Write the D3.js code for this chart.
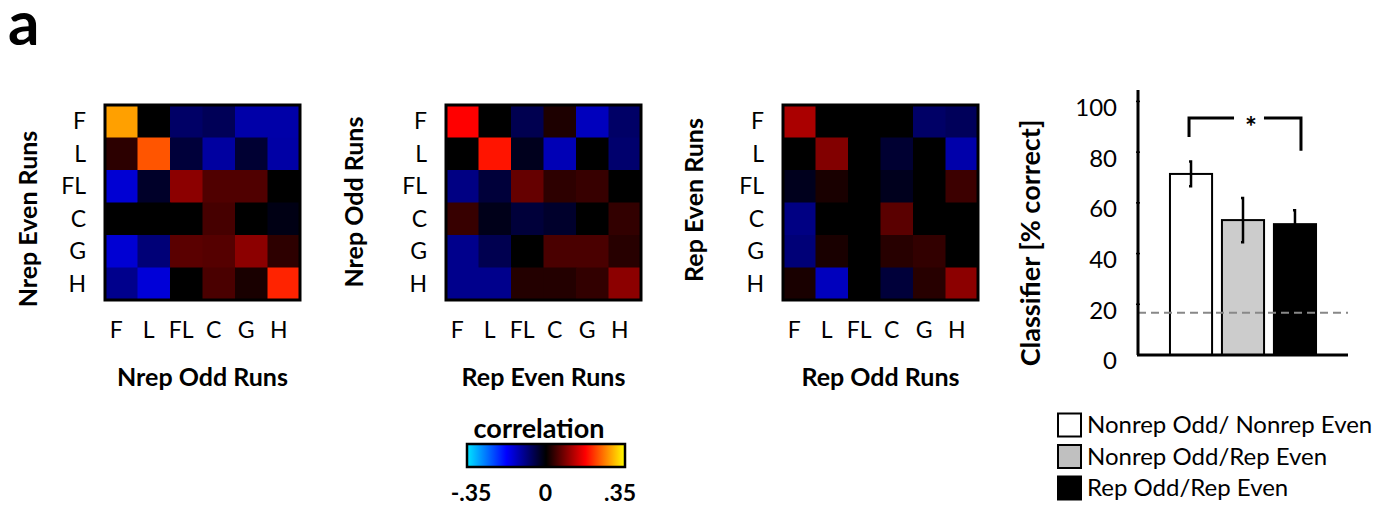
<!DOCTYPE html>
<html>
<head>
<meta charset="utf-8">
<script src="https://cdn.jsdelivr.net/npm/d3@7"></script>
<style>
  body { margin: 0; background: #fff; }
  svg { display: block; font-family: Lato, 'Open Sans', sans-serif; }
</style>
</head>
<body>
<svg id="chart" width="1377" height="507"></svg>
<script>
// ---- data ----
const faces = ['F', 'L', 'FL', 'C', 'G', 'H'];

// rows = y categories, columns = x categories
const nrepEvenVsNrepOdd = [
  [0.285, 0.000, -0.070, -0.060, -0.115, -0.115],
  [0.030, 0.233, -0.040, -0.110, -0.035, -0.113],
  [-0.145, -0.028, 0.096, 0.055, 0.055, 0.000],
  [0.000, 0.000, 0.000, 0.048, 0.000, -0.014],
  [-0.145, -0.082, 0.062, 0.058, 0.096, 0.031],
  [-0.096, -0.148, 0.000, 0.051, 0.017, 0.199]
];
const nrepOddVsRepEven = [
  [0.175, 0.000, -0.055, 0.020, -0.130, -0.070],
  [0.000, 0.189, -0.020, -0.124, 0.000, -0.075],
  [-0.090, -0.040, 0.069, 0.031, 0.038, 0.000],
  [0.038, -0.017, -0.040, -0.030, 0.000, 0.034],
  [-0.096, -0.055, 0.000, 0.051, 0.051, 0.027],
  [-0.096, -0.096, 0.024, 0.024, 0.034, 0.096]
];
const repEvenVsRepOdd = [
  [0.117, 0.000, 0.000, 0.000, -0.070, -0.062],
  [0.000, 0.089, 0.000, -0.034, 0.000, -0.117],
  [-0.020, 0.017, 0.000, -0.020, 0.000, 0.041],
  [-0.090, 0.000, 0.000, 0.062, 0.000, 0.000],
  [-0.082, 0.017, 0.000, 0.027, 0.034, 0.000],
  [0.017, -0.130, 0.000, -0.040, 0.027, 0.096]
];

const conditions = ['Nonrep Odd/ Nonrep Even', 'Nonrep Odd/Rep Even', 'Rep Odd/Rep Even'];
const accuracy = [71.4, 53.2, 51.6];
const accuracyErr = [4.9, 8.7, 5.5];
const chance = 100 / 6;
const accTicks = [0, 20, 40, 60, 80, 100];
const barFills = ['#ffffff', '#cccccc', '#000000'];
const legendFills = ['#ffffff', '#c0c0c0', '#000000'];
const corrTicks = [-0.35, 0, 0.35];
const corrTickLabels = ['-.35', '0', '.35'];

// ---- setup ----
const svg = d3.select('#chart');

const color = d3.scaleLinear()
  .domain([-0.35, -0.175, 0, 0.175, 0.35])
  .range(['#00e6ff', '#0000ff', '#000000', '#ff0000', '#ffff00'])
  .clamp(true);

svg.append('text')
  .attr('x', 8).attr('y', 45)
  .attr('font-size', 62).attr('font-weight', 700)
  .text('a');

// ---- heatmaps ----
const panels = [
  { left: 105, values: nrepEvenVsNrepOdd, yTitle: 'Nrep Even Runs', xTitle: 'Nrep Odd Runs', yTitleX: 37, yTitleY: 219 },
  { left: 446, values: nrepOddVsRepEven, yTitle: 'Nrep Odd Runs', xTitle: 'Rep Even Runs', yTitleX: 363, yTitleY: 202 },
  { left: 783, values: repEvenVsRepOdd, yTitle: 'Rep Even Runs', xTitle: 'Rep Odd Runs', yTitleX: 703, yTitleY: 200 }
];
const hmTop = 105, hmSize = 195;

panels.forEach(p => {
  const x = d3.scaleBand().domain(faces).range([p.left, p.left + hmSize]);
  const y = d3.scaleBand().domain(faces).range([hmTop, hmTop + hmSize]);
  const g = svg.append('g');

  const cells = [];
  p.values.forEach((row, i) => row.forEach((v, j) => cells.push({ r: faces[i], c: faces[j], v })));

  g.selectAll('rect.cell')
    .data(cells)
    .enter()
    .append('rect')
    .attr('class', 'cell')
    .attr('x', d => x(d.c))
    .attr('y', d => y(d.r))
    .attr('width', x.bandwidth() + 0.5)
    .attr('height', y.bandwidth() + 0.5)
    .attr('fill', d => color(d.v));

  g.append('rect')
    .attr('x', p.left).attr('y', hmTop)
    .attr('width', hmSize).attr('height', hmSize)
    .attr('fill', 'none').attr('stroke', '#000').attr('stroke-width', 3);

  // row labels
  g.selectAll('text.row')
    .data(faces)
    .enter()
    .append('text')
    .attr('class', 'row')
    .attr('x', p.left - 19)
    .attr('y', d => y(d) + y.bandwidth() / 2)
    .attr('dy', '0.35em')
    .attr('text-anchor', 'end')
    .attr('font-size', 23)
    .text(d => d);

  // column labels
  g.selectAll('text.col')
    .data(faces)
    .enter()
    .append('text')
    .attr('class', 'col')
    .attr('x', d => x(d) + x.bandwidth() / 2 - 5)
    .attr('y', 330)
    .attr('dy', '0.35em')
    .attr('text-anchor', 'middle')
    .attr('font-size', 23)
    .text(d => d);

  g.append('text')
    .attr('x', p.left + hmSize / 2)
    .attr('y', 377)
    .attr('dy', '0.35em')
    .attr('text-anchor', 'middle')
    .attr('font-size', 25).attr('font-weight', 700)
    .text(p.xTitle);

  g.append('text')
    .attr('transform', `translate(${p.yTitleX}, ${p.yTitleY}) rotate(-90)`)
    .attr('text-anchor', 'middle')
    .attr('font-size', 25).attr('font-weight', 700)
    .text(p.yTitle);
});

// ---- colour bar ----
const cbLeft = 467, cbRight = 625, cbTop = 444, cbH = 23;
const grad = svg.append('defs').append('linearGradient').attr('id', 'corrGrad');
color.domain().forEach((d, i) => {
  grad.append('stop')
    .attr('offset', `${(d + 0.35) / 0.7 * 100}%`)
    .attr('stop-color', color.range()[i]);
});
svg.append('rect')
  .attr('x', cbLeft).attr('y', cbTop)
  .attr('width', cbRight - cbLeft).attr('height', cbH)
  .attr('fill', 'url(#corrGrad)')
  .attr('stroke', '#000').attr('stroke-width', 2.5);
svg.append('text')
  .attr('x', 539).attr('y', 438)
  .attr('text-anchor', 'middle')
  .attr('font-size', 27).attr('font-weight', 700)
  .text('correlation');

const cbScale = d3.scaleLinear().domain([-0.35, 0.35]).range([471, 620]);
svg.selectAll('text.cbtick')
  .data(corrTicks)
  .enter()
  .append('text')
  .attr('class', 'cbtick')
  .attr('x', d => cbScale(d))
  .attr('y', 501)
  .attr('text-anchor', 'middle')
  .attr('font-size', 23).attr('font-weight', 700)
  .text((d, i) => corrTickLabels[i]);

// ---- bar chart ----
const bx = d3.scaleBand().domain(conditions).range([1138, 1348])
  .paddingInner(0.19).paddingOuter(0.615);
const by = d3.scaleLinear().domain([0, 104.5]).range([355, 90]);
const bar = svg.append('g');

bar.selectAll('text.ytick')
  .data(accTicks)
  .enter()
  .append('text')
  .attr('class', 'ytick')
  .attr('x', 1117)
  .attr('y', d => by(d) + 6)
  .attr('dy', '0.35em')
  .attr('text-anchor', 'end')
  .attr('font-size', 24)
  .text(d => d);

bar.selectAll('line.ytickmark')
  .data(accTicks.slice(1))
  .enter()
  .append('line')
  .attr('class', 'ytickmark')
  .attr('x1', 1136).attr('x2', 1140)
  .attr('y1', d => by(d)).attr('y2', d => by(d))
  .attr('stroke', '#000').attr('stroke-width', 1.5);

bar.append('text')
  .attr('transform', 'translate(1040, 243) rotate(-90)')
  .attr('text-anchor', 'middle')
  .attr('font-size', 27).attr('font-weight', 700)
  .text('Classifier [% correct]');

bar.selectAll('rect.bar')
  .data(conditions)
  .enter()
  .append('rect')
  .attr('class', 'bar')
  .attr('x', d => bx(d))
  .attr('y', (d, i) => by(accuracy[i]))
  .attr('width', bx.bandwidth())
  .attr('height', (d, i) => by(0) - by(accuracy[i]))
  .attr('fill', (d, i) => barFills[i])
  .attr('stroke', '#000').attr('stroke-width', 2);

// error bars
conditions.forEach((c, i) => {
  const cx = bx(c) + bx.bandwidth() / 2;
  const hi = by(accuracy[i] + accuracyErr[i]);
  const lo = by(accuracy[i] - accuracyErr[i]);
  const path = d3.path();
  path.moveTo(cx - 2, hi); path.lineTo(cx, hi);
  path.lineTo(cx, lo); path.lineTo(cx - 2, lo);
  bar.append('path')
    .attr('d', path.toString())
    .attr('fill', 'none')
    .attr('stroke', '#000').attr('stroke-width', 2.5);
});

// chance level
bar.append('line')
  .attr('x1', 1138).attr('x2', 1348)
  .attr('y1', by(chance)).attr('y2', by(chance))
  .attr('stroke', '#888').attr('stroke-width', 2)
  .attr('stroke-dasharray', '8,5');

// axes
bar.append('line')
  .attr('x1', 1138).attr('x2', 1138)
  .attr('y1', by(104.5)).attr('y2', by(0))
  .attr('stroke', '#000').attr('stroke-width', 3);
bar.append('line')
  .attr('x1', 1137).attr('x2', 1348)
  .attr('y1', by(0)).attr('y2', by(0))
  .attr('stroke', '#000').attr('stroke-width', 3);

// significance bracket
const sx1 = bx(conditions[0]) + bx.bandwidth() / 2 - 2;
const sx2 = bx(conditions[2]) + bx.bandwidth() / 2 + 6;
const sy = by(93.5);
bar.append('path')
  .attr('d', `M${sx1},${by(86)}V${sy}H${sx1 + 45}M${sx2 - 37},${sy}H${sx2}V${by(80.5)}`)
  .attr('fill', 'none')
  .attr('stroke', '#000').attr('stroke-width', 3);
bar.append('text')
  .attr('x', (sx1 + sx2) / 2 + 6)
  .attr('y', sy + 2)
  .attr('dy', '0.6em')
  .attr('text-anchor', 'middle')
  .attr('font-size', 28).attr('font-weight', 700)
  .text('*');

// legend
const legend = svg.append('g');
conditions.forEach((c, i) => {
  const ly = 425 + i * 31.5;
  legend.append('rect')
    .attr('x', 1058).attr('y', ly - 11.5)
    .attr('width', 23).attr('height', 23)
    .attr('fill', legendFills[i])
    .attr('stroke', '#000').attr('stroke-width', 2);
  legend.append('text')
    .attr('x', 1087).attr('y', ly)
    .attr('dy', '0.35em')
    .attr('font-size', 24)
    .text(c);
});
</script>
</body>
</html>
